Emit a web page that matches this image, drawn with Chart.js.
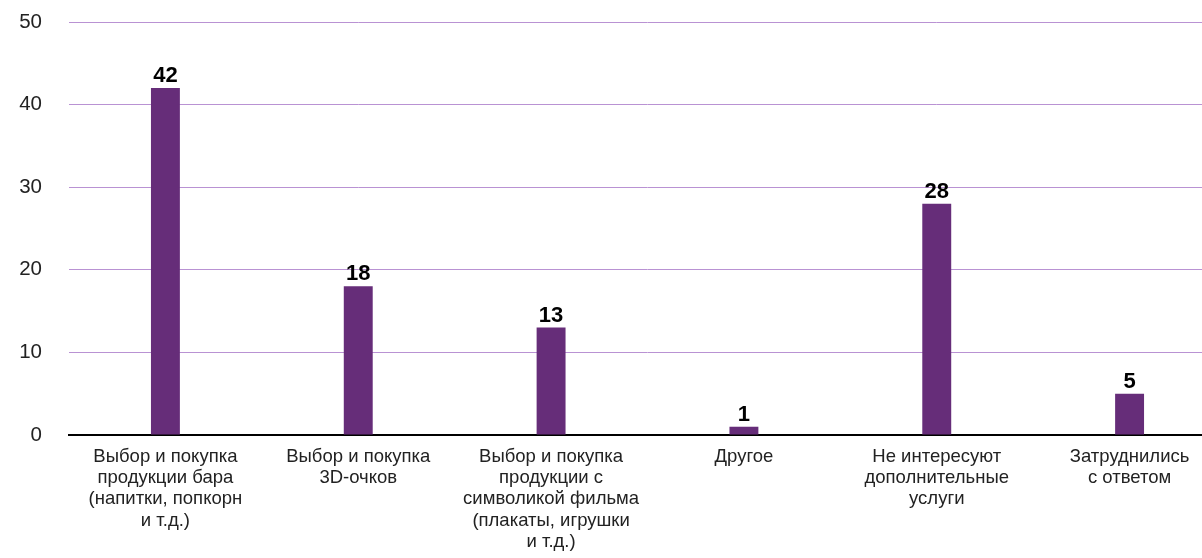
<!DOCTYPE html>
<html>
<head>
<meta charset="utf-8">
<script src="https://cdn.jsdelivr.net/npm/chart.js@4"></script>
<style>
  html, body { margin: 0; padding: 0; background: #fff; overflow: hidden; }
  #wrap { width: 1226px; height: 558px; }
</style>
</head>
<body>
<div id="wrap"><canvas id="chart"></canvas></div>
<script>
// Данные
const categories = [
  ["Выбор и покупка", "продукции бара", "(напитки, попкорн", "и т.д.)"],
  ["Выбор и покупка", "3D-очков"],
  ["Выбор и покупка", "продукции с", "символикой фильма", "(плакаты, игрушки", "и т.д.)"],
  ["Другое"],
  ["Не интересуют", "дополнительные", "услуги"],
  ["Затруднились", "с ответом"],
];
const values = [42, 18, 13, 1, 28, 5];
const yTicks = [0, 10, 20, 30, 40, 50];

const FONT = "'Liberation Sans', Arial, sans-serif";

// подписи над столбиками
const barLabels = {
  id: "barLabels",
  afterDatasetsDraw(chart) {
    const ctx = chart.ctx;
    const meta = chart.getDatasetMeta(0);
    ctx.save();
    ctx.font = "bold 22px " + FONT;
    ctx.fillStyle = "#000";
    ctx.textAlign = "center";
    ctx.textBaseline = "bottom";
    meta.data.forEach((bar, i) => {
      ctx.fillText(values[i], bar.x, bar.y - 1);
    });
    ctx.restore();
  },
};

new Chart(document.getElementById("chart"), {
  type: "bar",
  data: {
    labels: categories,
    datasets: [
      {
        data: values,
        backgroundColor: "#662d79",
        barPercentage: 0.15,
        categoryPercentage: 1,
      },
    ],
  },
  options: {
    responsive: true,
    maintainAspectRatio: false,
    animation: false,
    layout: { padding: 0 },
    plugins: { legend: { display: false }, tooltip: { enabled: false } },
    scales: {
      x: {
        grid: { display: false, drawTicks: false },
        border: { color: "#000", width: 2 },
        afterFit: (axis) => {
          axis.height = 123;
          axis.paddingLeft = 0;
          axis.paddingRight = 0;
        },
        ticks: {
          color: "#222",
          font: { family: FONT, size: 18.5, lineHeight: 1.15 },
          padding: 11,
          maxRotation: 0,
          autoSkip: false,
        },
      },
      y: {
        min: 0,
        max: 50,
        afterBuildTicks: (axis) => {
          axis.ticks = yTicks.map((v) => ({ value: v }));
        },
        afterFit: (axis) => {
          axis.width = 69;
          axis.paddingTop = 22;
          axis.paddingBottom = 0;
        },
        grid: { color: "#b992d3", lineWidth: 1, drawTicks: false },
        border: { display: false },
        ticks: {
          color: "#222",
          font: { family: FONT, size: 20.5 },
          padding: 27,
        },
      },
    },
  },
  plugins: [barLabels],
});
</script>
</body>
</html>
